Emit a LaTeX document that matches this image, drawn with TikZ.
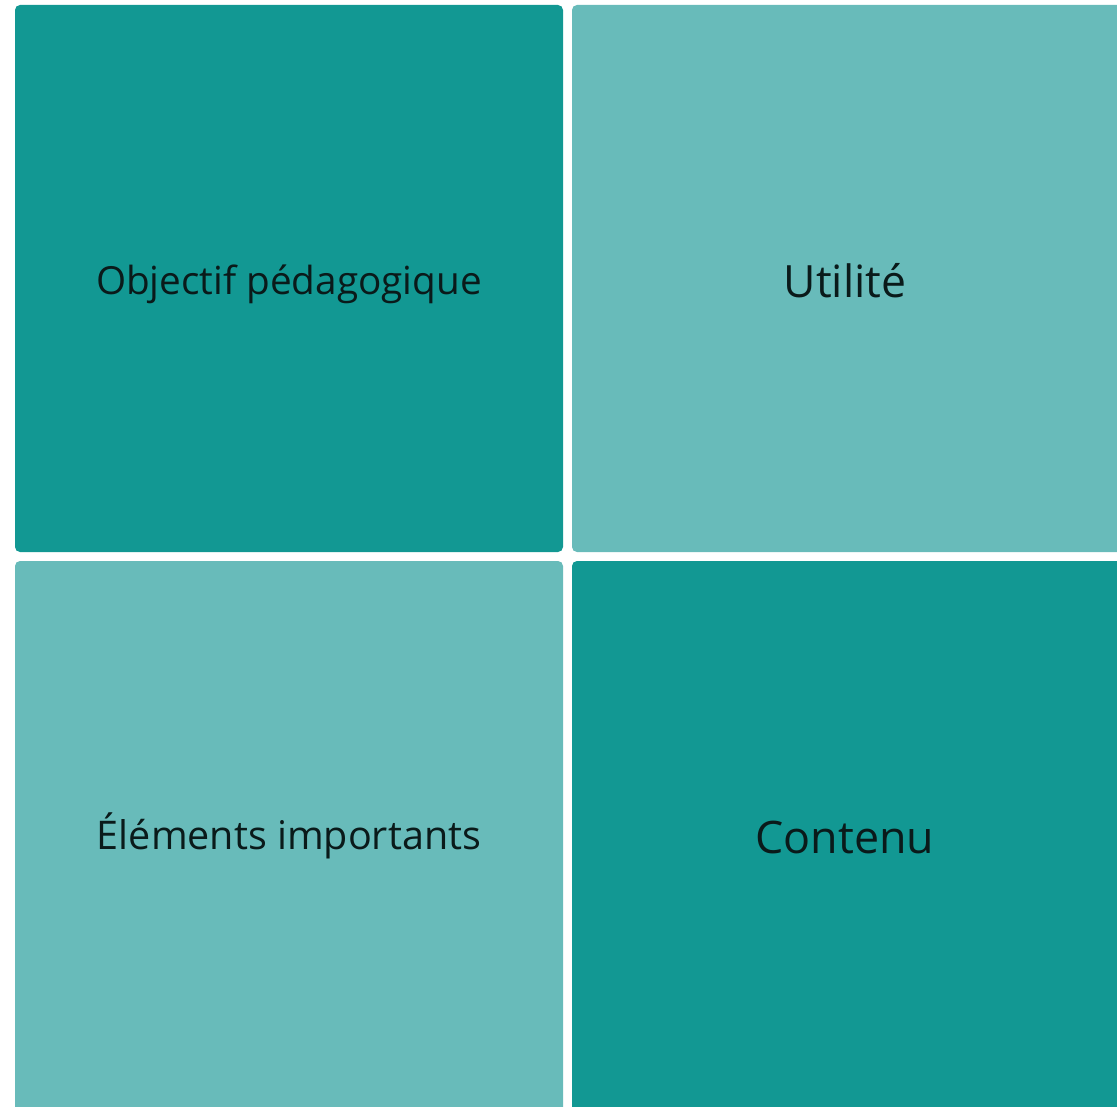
\documentclass[tikz,border=0pt]{standalone}
\usepackage{fontspec}
\setmainfont{Open Sans}
\definecolor{darkteal}{HTML}{129893}
\definecolor{lightteal}{HTML}{68BBBA}
\definecolor{txt}{HTML}{0A1A1A}
\begin{document}
\begin{tikzpicture}[x=1pt,y=-1pt,
  tile/.style={rounded corners=5pt, draw=none},
  lbl/.style={text=txt, inner sep=0pt}]
\useasboundingbox (0,0) rectangle (1117,1107);
\fill[tile, darkteal] (15,5) rectangle (563,552);
\fill[tile, lightteal] (572,5) rectangle (1122,552);
\fill[tile, lightteal] (15,561) rectangle (563,1112);
\fill[tile, darkteal] (572,561) rectangle (1122,1112);
\node[lbl, font=\fontsize{38.7}{46}\selectfont] (a) at (289,284) {Objectif pédagogique};
\node[lbl, font=\fontsize{44.5}{53}\selectfont] (b) at (845,281) {Utilité};
\node[lbl, font=\fontsize{39.5}{47}\selectfont] (c) at (289,836) {Éléments importants};
\node[lbl, font=\fontsize{44.8}{54}\selectfont] (d) at (845,837) {Contenu};
\end{tikzpicture}
\end{document}
